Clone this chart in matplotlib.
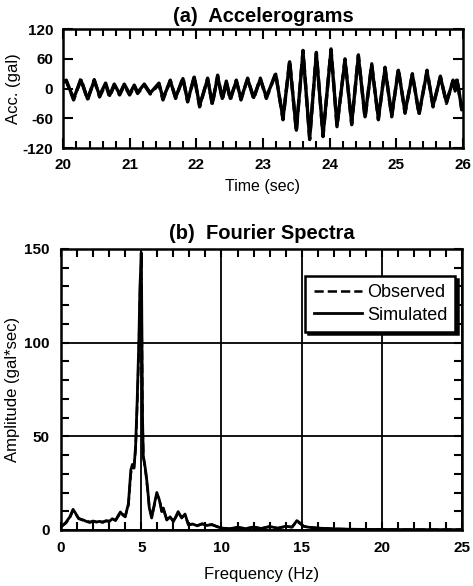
import matplotlib.pyplot as plt
from matplotlib.ticker import MultipleLocator

plt.rcParams['font.family'] = ['Liberation Sans', 'DejaVu Sans']
plt.rcParams['axes.unicode_minus'] = False

# (a) accelerograms: peaks and troughs
t_sec = [20.0, 20.05, 20.16, 20.27, 20.37, 20.47, 20.55, 20.64, 20.70, 20.77,
         20.85, 20.92, 21.00, 21.07, 21.12, 21.22, 21.31, 21.44, 21.50, 21.61,
         21.69, 21.80, 21.87, 21.97, 22.05, 22.17, 22.24, 22.32, 22.39, 22.45,
         22.51, 22.60, 22.67, 22.77, 22.86, 22.96, 23.05, 23.19, 23.30, 23.40,
         23.50, 23.60, 23.70, 23.80, 23.90, 24.02, 24.11, 24.23, 24.33, 24.43,
         24.53, 24.63, 24.73, 24.83, 24.93, 25.03, 25.13, 25.24, 25.34, 25.46,
         25.55, 25.66, 25.75, 25.85, 25.88, 25.91, 25.98, 26.0]
acc_obs = [12, 17, -23, 20, -23, 18, -17, 9, -17, 7,
           -13, 7, -13, 5, -10, 7, -11, 9, -23, 17,
           -20, 22, -27, 25, -37, 21, -33, 27, -23, 13,
           -23, 17, -23, 21, -21, 21, -20, 31, -63, 57,
           -87, 77, -103, 73, -97, 80, -77, 60, -73, 68,
           -60, 50, -63, 43, -57, 40, -50, 30, -53, 37,
           -37, 25, -30, 17, -5, 20, -43, -35]
acc_sim = [14, 15, -20, 17, -21, 16, -14, 11, -14, 9,
           -11, 9, -11, 7, -8, 9, -9, 11, -20, 15,
           -18, 20, -25, 23, -34, 19, -30, 24, -20, 15,
           -20, 15, -20, 19, -18, 19, -17, 29, -60, 54,
           -84, 74, -100, 70, -94, 77, -74, 57, -70, 65,
           -57, 47, -60, 40, -54, 37, -47, 28, -50, 34,
           -34, 23, -27, 15, -2, 17, -40, -32]

# (b) Fourier spectra
freq_hz = [0, 0.3, 0.55, 0.75, 0.9, 1.1, 1.4, 1.6, 1.8, 2.0,
           2.2, 2.4, 2.6, 2.8, 3.0, 3.2, 3.4, 3.55, 3.7, 3.85,
           4.0, 4.2, 4.35, 4.45, 4.55, 4.65, 4.75, 4.85, 4.92, 4.97,
           5.0, 5.03, 5.08, 5.13, 5.2, 5.3, 5.4, 5.5, 5.65, 5.8,
           5.97, 6.13, 6.28, 6.38, 6.59, 6.8, 7.0, 7.15, 7.3, 7.52,
           7.73, 7.94, 8.2, 8.5, 8.8, 9.1, 9.4, 9.7, 10.0, 10.5,
           11, 11.5, 12, 12.5, 13, 13.5, 14, 14.4, 14.7, 14.9,
           15.1, 15.4, 16, 17, 18, 19, 20, 22, 25]
amp_sim = [1.6, 4, 7, 11, 9, 6, 5.3, 4.5, 4, 4.8,
           4.2, 4.6, 4, 5, 4.5, 6, 5, 7.5, 9.6, 8,
           7, 14, 32, 35, 33, 45, 70, 100, 130, 140,
           148, 120, 60, 39, 36, 30, 22, 12, 6.4, 13,
           20, 16, 9.8, 11.7, 5.3, 7, 4.5, 7, 9.8, 6.4,
           8.5, 2.7, 3.2, 2.2, 3.4, 2.4, 3, 1.8, 1, 0.6,
           1.5, 0.7, 1.6, 0.8, 1.9, 0.9, 2, 1.5, 5, 3.7,
           2, 1.5, 1, 0.6, 0.4, 0.3, 0.3, 0.2, 0.2]
amp_obs = [1.8, 3.6, 6.5, 10.5, 8.6, 6.3, 5, 4.8, 4.3, 4.5,
           4.5, 4.3, 4.4, 4.7, 4.9, 5.6, 5.4, 7, 9.1, 8.4,
           7.4, 13, 30, 34, 34, 43, 67, 96, 125, 138,
           142, 112, 57, 40, 35, 29, 21, 12.5, 7, 12.5,
           19, 16.5, 10.2, 11, 5.8, 6.6, 5, 6.6, 9.2, 6.8,
           8, 3, 3, 2.5, 3.1, 2.6, 2.7, 2, 1.1, 0.7,
           1.3, 0.8, 1.4, 0.9, 1.7, 1, 1.8, 1.6, 4.6, 3.4,
           2.2, 1.4, 1.1, 0.6, 0.4, 0.3, 0.3, 0.2, 0.2]

fig = plt.figure(figsize=(4.73, 5.86), dpi=100)

# ---- top panel
ax1 = fig.add_axes([0.133, 0.7474, 0.846, 0.203])
ax1.plot(t_sec, acc_obs, color='black', lw=2.4, ls='--', solid_joinstyle='round')
ax1.plot(t_sec, acc_sim, color='black', lw=2.4, solid_joinstyle='round')
ax1.set_xlim(20, 26)
ax1.set_ylim(-120, 120)
ax1.set_xticks([20, 21, 22, 23, 24, 25, 26])
ax1.set_yticks([120, 60, 0, -60, -120])
ax1.xaxis.set_minor_locator(MultipleLocator(0.2))
ax1.tick_params(which='both', direction='in', top=True, right=True, width=1.5)
ax1.tick_params(which='major', length=7, pad=7, labelsize=11)
ax1.tick_params(which='minor', length=5)
for lab in ax1.get_xticklabels() + ax1.get_yticklabels():
    lab.set_fontweight('bold')
ax1.set_title('(a)  Accelerograms', fontsize=14.5, fontweight='bold', pad=5)
ax1.set_xlabel('Time (sec)', fontsize=11.5)
ax1.set_ylabel('Acc. (gal)', fontsize=12)
ax1.xaxis.set_label_coords(0.5, -0.26)
ax1.yaxis.set_label_coords(-0.105, 0.5)
for s in ax1.spines.values():
    s.set_linewidth(1.8)

# ---- bottom panel
ax2 = fig.add_axes([0.129, 0.0956, 0.848, 0.4795])
ax2.plot(freq_hz, amp_obs, color='black', lw=1.8, ls='--', label='Observed')
ax2.plot(freq_hz, amp_sim, color='black', lw=2.0, label='Simulated')
ax2.set_xlim(0, 25)
ax2.set_ylim(0, 150)
ax2.set_xticks([0, 5, 10, 15, 20, 25])
ax2.set_yticks([0, 50, 100, 150])
ax2.xaxis.set_minor_locator(MultipleLocator(1))
ax2.yaxis.set_minor_locator(MultipleLocator(10))
ax2.grid(True, which='major', color='black', lw=1.3)
ax2.tick_params(which='both', direction='in', top=True, right=True, width=1.5)
ax2.tick_params(which='major', length=6, pad=8, labelsize=11)
ax2.tick_params(which='minor', length=6)
for lab in ax2.get_xticklabels() + ax2.get_yticklabels():
    lab.set_fontweight('bold')
ax2.set_title('(b)  Fourier Spectra', fontsize=14.5, fontweight='bold', pad=7)
ax2.set_xlabel('Frequency (Hz)', fontsize=12)
ax2.set_ylabel('Amplitude (gal*sec)', fontsize=12)
ax2.xaxis.set_label_coords(0.5, -0.13)
ax2.yaxis.set_label_coords(-0.102, 0.5)
for s in ax2.spines.values():
    s.set_linewidth(1.8)

leg = ax2.legend(loc='upper right', bbox_to_anchor=(0.983, 0.904), fontsize=13,
                 borderaxespad=0, fancybox=False,
                 shadow={'color': 'black', 'alpha': 1},
                 framealpha=1, edgecolor='black',
                 handlelength=2.7, handletextpad=0.25, borderpad=0.45,
                 labelspacing=0.3)
leg.get_frame().set_linewidth(1.8)

fig.savefig('out.png', dpi=100)
